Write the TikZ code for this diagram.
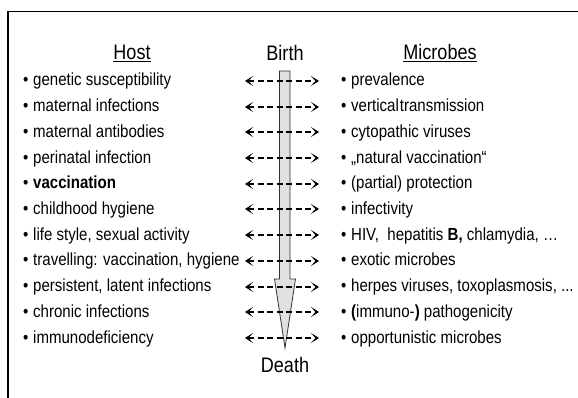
\documentclass[tikz,border=0pt]{standalone}
\usepackage{fontspec}
\setmainfont{Liberation Sans}[FakeStretch=0.86]
\usetikzlibrary{arrows.meta}
\tikzset{
  item/.style={anchor=base west, inner sep=0pt, font=\fontsize{17.5}{20}\selectfont},
  title/.style={anchor=base, inner sep=0pt, font=\fontsize{21}{24}\selectfont},
  barbtip/.tip={Stealth[length=8pt,width=10pt,inset=4.5pt]},
  link/.style={dash pattern=on 6pt off 3.5pt, line width=2pt, barbtip-barbtip},
  life/.style={draw=black!80, fill=black!12, line width=0.8pt},
  frame/.style={line width=1.4pt}
}
\newcommand{\bul}{\makebox[10pt][l]{•}}
\begin{document}
\begin{tikzpicture}[x=1pt,y=-1pt]
\useasboundingbox (0,0) rectangle (578,398);
\draw[frame] (8,398) -- (8,11.5) -- (578,11.5);
% life arrow
\draw[life] (279.5,71) -- (290,71) -- (290,279) -- (295.5,279) -- (285,348) -- (274.5,279) -- (279.5,279) -- cycle;
% titles
\node[title] (host) at (132,60) {\underline{Host}};
\node[title] (birth) at (285,61) {Birth};
\node[title] (mic) at (440,60) {\underline{Microbes}};
\node[title] (death) at (285,372) {Death};
% left column
\foreach \i/\t in {1/genetic susceptibility,2/maternal infections,3/maternal antibodies,4/perinatal infection,5/\textbf{vaccination},6/childhood hygiene,7/{life style, sexual activity},8/{travelling: vaccination, hygiene},9/{persistent, latent infections},10/chronic infections,11/immunodeficiency}{
  \pgfmathsetmacro{\yy}{86+25.7*(\i-1)}
  \node[item] (h\i) at (23,\yy) {\bul\t};
}
% right column
\foreach \i/\t in {1/prevalence,2/vertical\hspace{1pt}transmission,3/cytopathic viruses,4/„natural vaccination“,5/(partial) protection,6/infectivity,7/{HIV,\ \ hepatitis \textbf{B,} chlamydia, …},8/exotic microbes,9/{herpes viruses, toxoplasmosis, ...},10/{\textbf{(}immuno-\textbf{)} pathogenicity},11/opportunistic microbes}{
  \pgfmathsetmacro{\yy}{86+25.7*(\i-1)}
  \node[item] (m\i) at (341,\yy) {\bul\t};
}
% dashed links
\foreach \i in {1,...,11}{
  \pgfmathsetmacro{\yy}{81+round(25.7*(\i-1))}
  \coordinate (a\i) at (245,\yy);
  \coordinate (b\i) at (319,\yy);
  \draw[link] (a\i) -- (b\i);
}
\end{tikzpicture}
\end{document}
